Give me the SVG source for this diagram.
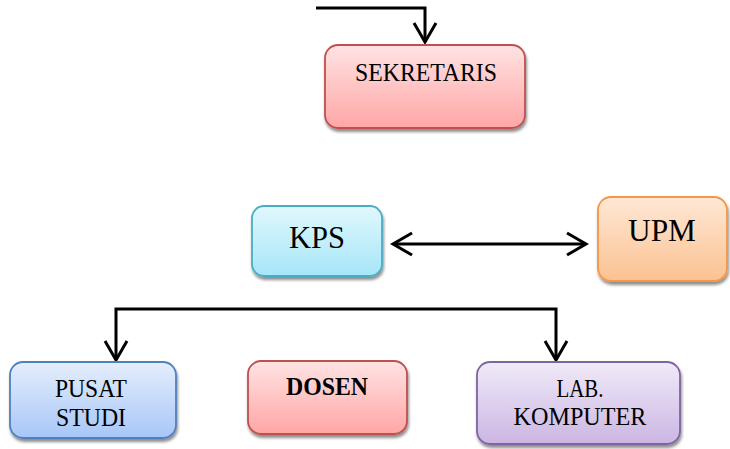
<svg xmlns="http://www.w3.org/2000/svg" width="730" height="449" viewBox="0 0 730 449">
<style>
.box{stroke-width:1.8}
.t{font-family:"Liberation Serif","Times New Roman",serif;fill:#000;text-anchor:middle}
.c{fill:none;stroke:#000;stroke-width:3}
</style>
<defs>
<marker id="ah" viewBox="-2 -2 24 26" refX="19" refY="11" markerWidth="24" markerHeight="26" markerUnits="userSpaceOnUse" orient="auto-start-reverse">
<path d="M0,0 L19,11 L0,22" fill="none" stroke="#000" stroke-width="3"/>
</marker>
<filter id="sh" x="-10%" y="-10%" width="130%" height="140%">
<feGaussianBlur in="SourceAlpha" stdDeviation="1.5"/>
<feOffset dx="1" dy="3" result="o"/>
<feComponentTransfer><feFuncA type="linear" slope="0.45"/></feComponentTransfer>
<feMerge><feMergeNode/><feMergeNode in="SourceGraphic"/></feMerge>
</filter>
<linearGradient id="gRed" x1="0" y1="0" x2="0" y2="1"><stop offset="0" stop-color="#FFE3E3"/><stop offset="1" stop-color="#FFA6A6"/></linearGradient>
<linearGradient id="gCyan" x1="0" y1="0" x2="0" y2="1"><stop offset="0" stop-color="#E0F8FD"/><stop offset="1" stop-color="#A6E6F8"/></linearGradient>
<linearGradient id="gOrange" x1="0" y1="0" x2="0" y2="1"><stop offset="0" stop-color="#FFE8D6"/><stop offset="1" stop-color="#FBC291"/></linearGradient>
<linearGradient id="gBlue" x1="0" y1="0" x2="0" y2="1"><stop offset="0" stop-color="#E5EEFC"/><stop offset="1" stop-color="#A7C6F8"/></linearGradient>
<linearGradient id="gPurple" x1="0" y1="0" x2="0" y2="1"><stop offset="0" stop-color="#F0EAF8"/><stop offset="1" stop-color="#CBB6E3"/></linearGradient>
</defs>

<g id="connectors">
<path class="c" d="M316,8 H425 V42" marker-end="url(#ah)"/>
<path class="c" d="M393,244 H586" marker-start="url(#ah)" marker-end="url(#ah)"/>
<path class="c" d="M116,360 V309 H556 V360" marker-start="url(#ah)" marker-end="url(#ah)"/>
</g>

<g id="sekretaris">
<rect class="box" x="325" y="45" width="200" height="83" rx="13" fill="url(#gRed)" stroke="#C0504D" filter="url(#sh)"/>
<text class="t" x="426" y="81" font-size="25" textLength="142" lengthAdjust="spacingAndGlyphs">SEKRETARIS</text>
</g>

<g id="kps">
<rect class="box" x="252" y="206" width="130" height="70" rx="12" fill="url(#gCyan)" stroke="#4BACC6" filter="url(#sh)"/>
<text class="t" x="317" y="248" font-size="31" textLength="56" lengthAdjust="spacingAndGlyphs">KPS</text>
</g>

<g id="upm">
<rect class="box" x="598" y="197" width="129" height="84" rx="13" fill="url(#gOrange)" stroke="#F79646" filter="url(#sh)"/>
<text class="t" x="662" y="241" font-size="31" textLength="68" lengthAdjust="spacingAndGlyphs">UPM</text>
</g>

<g id="pusat-studi">
<rect class="box" x="10" y="362" width="166" height="76" rx="13" fill="url(#gBlue)" stroke="#4F81BD" filter="url(#sh)"/>
<text class="t" x="91" y="397" font-size="25" textLength="72" lengthAdjust="spacingAndGlyphs">PUSAT</text>
<text class="t" x="91" y="426" font-size="25" textLength="70" lengthAdjust="spacingAndGlyphs">STUDI</text>
</g>

<g id="dosen">
<rect class="box" x="248" y="361" width="159" height="73" rx="13" fill="url(#gRed)" stroke="#C0504D" filter="url(#sh)"/>
<text class="t" x="327" y="395" font-size="25" font-weight="bold" textLength="82" lengthAdjust="spacingAndGlyphs">DOSEN</text>
</g>

<g id="lab-komputer">
<rect class="box" x="477" y="362" width="203" height="82" rx="13" fill="url(#gPurple)" stroke="#8064A2" filter="url(#sh)"/>
<text class="t" x="580" y="397" font-size="25" textLength="47" lengthAdjust="spacingAndGlyphs">LAB.</text>
<text class="t" x="580" y="425" font-size="25" textLength="133" lengthAdjust="spacingAndGlyphs">KOMPUTER</text>
</g>
</svg>
